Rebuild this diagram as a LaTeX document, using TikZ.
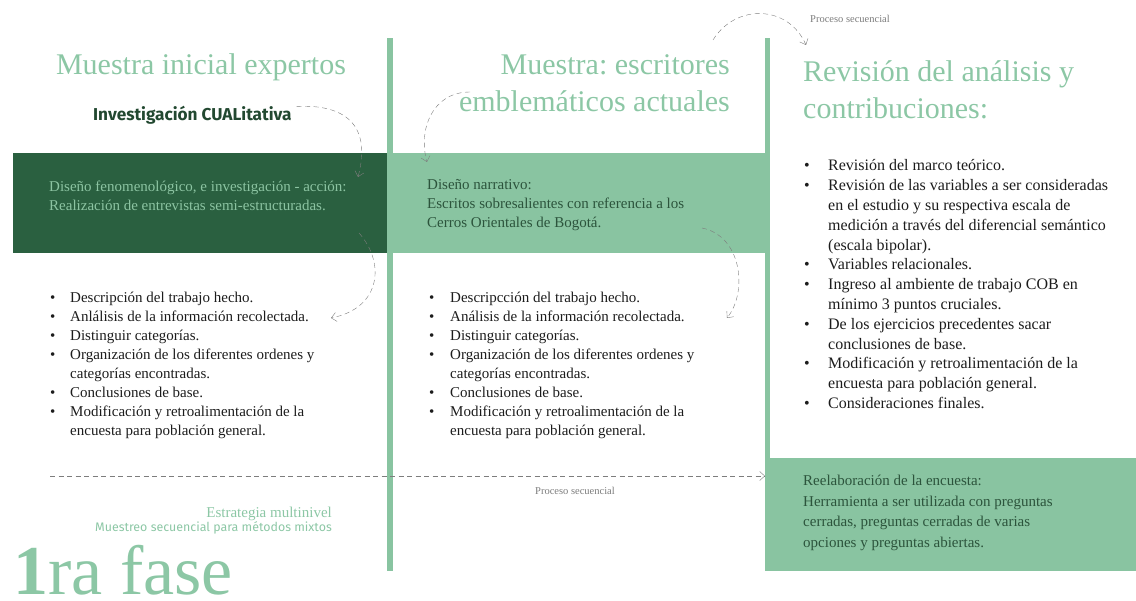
\documentclass[tikz,border=0pt]{standalone}
\usepackage{fontspec}
\setmainfont{Liberation Serif}
\newfontfamily\sansfam{Fira Sans}
\usepackage{tikz}
\usetikzlibrary{arrows.meta}
\frenchspacing
\definecolor{verdeclaro}{RGB}{137,196,161}
\definecolor{verdeoscuro}{RGB}{42,96,64}
\definecolor{tituloverde}{RGB}{140,199,165}
\definecolor{textoclaro}{RGB}{140,196,162}
\definecolor{textoverde}{RGB}{34,72,48}
\definecolor{textobanda}{RGB}{44,84,60}
\definecolor{gris}{RGB}{125,125,125}
\definecolor{texto}{RGB}{28,28,28}
\tikzset{
  titulo/.style={font=\fontsize{30}{37}\selectfont, text=tituloverde, inner sep=0},
  lista/.style={font=\fontsize{15}{19}\selectfont, text=texto, inner sep=0, anchor=base west},
  banda/.style={font=\fontsize{15}{18.8}\selectfont, inner sep=0, anchor=base west},
  flecha/.style={draw=gris, thin, dash pattern=on 5pt off 3.5pt, -{Straight Barb[length=5pt,width=9pt]}},
  nota/.style={font=\fontsize{10.5}{12}\selectfont, text=gris, inner sep=0}
}
\newcommand\bul{\textbullet}
\begin{document}
\begin{tikzpicture}[x=1pt,y=-1pt]
  \useasboundingbox (0,0) rectangle (1136,601);
  % bandas y columnas
  \node[fill=verdeoscuro, anchor=north west, minimum width=377, minimum height=100, inner sep=0] (bandaA) at (13,153) {};
  \node[fill=verdeclaro, anchor=north west, minimum width=376, minimum height=100, inner sep=0] (bandaB) at (390,153) {};
  \fill[verdeclaro] (387,38) rectangle (393,571);
  \fill[verdeclaro] (765,38) rectangle (770,458);
  \node[fill=verdeclaro, anchor=north west, minimum width=371, minimum height=113, inner sep=0] (cajaD) at (765,458) {};

  % titulos
  \node[titulo, anchor=base] (tituloA) at (201,75) {Muestra inicial expertos};
  \node[titulo, anchor=base east] (tituloB) at (730,75) {\begin{tabular}[t]{@{}r@{}}Muestra: escritores\\emblemáticos actuales\end{tabular}};
  \node[titulo, anchor=base west] (tituloC) at (803,82) {\begin{tabular}[t]{@{}l@{}}Revisión del análisis y\\contribuciones:\end{tabular}};
  \node[font=\sansfam\bfseries\fontsize{17.2}{19}\selectfont, text=textoverde, anchor=base west, inner sep=0] (inv) at (93,121) {Investigación CUALitativa};

  % textos de las bandas
  \node[banda, text=textoclaro] (disenoA) at (49,192) {\begin{tabular}[t]{@{}l@{}}Diseño fenomenológico, e investigación - acción:\\Realización de entrevistas semi-estructuradas.\end{tabular}};
  \node[banda, text=textobanda] (disenoB) at (427,190) {\begin{tabular}[t]{@{}l@{}}Diseño narrativo:\\Escritos sobresalientes con referencia a los\\Cerros Orientales de Bogotá.\end{tabular}};

  % listas
  \node[lista] (listaA) at (50,303) {\begin{tabular}[t]{@{}p{20pt}@{}l@{}}
    \bul & Descripción del trabajo hecho.\\
    \bul & Anlálisis de la información recolectada.\\
    \bul & Distinguir categorías.\\
    \bul & Organización de los diferentes ordenes y\\
         & categorías encontradas.\\
    \bul & Conclusiones de base.\\
    \bul & Modificación y retroalimentación de la\\
         & encuesta para población general.
  \end{tabular}};
  \node[lista] (listaB) at (429,303) {\begin{tabular}[t]{@{}p{21pt}@{}l@{}}
    \bul & Descripcción del trabajo hecho.\\
    \bul & Análisis de la información recolectada.\\
    \bul & Distinguir categorías.\\
    \bul & Organización de los diferentes ordenes y\\
         & categorías encontradas.\\
    \bul & Conclusiones de base.\\
    \bul & Modificación y retroalimentación de la\\
         & encuesta para población general.
  \end{tabular}};
  \node[lista, font=\fontsize{16}{19.8}\selectfont] (listaC) at (804,171) {\begin{tabular}[t]{@{}p{24pt}@{}l@{}}
    \bul & Revisión del marco teórico.\\
    \bul & Revisión de las variables a ser consideradas\\
         & en el estudio y su respectiva escala de\\
         & medición a través del diferencial semántico\\
         & (escala bipolar).\\
    \bul & Variables relacionales.\\
    \bul & Ingreso al ambiente de trabajo COB en\\
         & mínimo 3 puntos cruciales.\\
    \bul & De los ejercicios precedentes sacar\\
         & conclusiones de base.\\
    \bul & Modificación y retroalimentación de la\\
         & encuesta para población general.\\
    \bul & Consideraciones finales.
  \end{tabular}};
  \node[banda, text=textobanda, font=\fontsize{15}{20.5}\selectfont] (reelab) at (803,486) {\begin{tabular}[t]{@{}l@{}}Reelaboración de la encuesta:\\Herramienta a ser utilizada con preguntas\\cerradas, preguntas cerradas de varias\\opciones y preguntas abiertas.\end{tabular}};

  % pie
  \node[font=\fontsize{15}{18}\selectfont, text=tituloverde, anchor=base east, inner sep=0] (estrategia) at (332,518) {Estrategia multinivel};
  \node[font=\sansfam\fontsize{12.4}{14}\selectfont, text=tituloverde, anchor=base east, inner sep=0] (muestreo) at (332,532) {Muestreo secuencial para métodos mixtos};
  \node[font=\fontsize{70}{72}\selectfont, text=tituloverde, anchor=base west, inner sep=0] (fase) at (13,594) {\textbf{1}ra fase};

  % flechas punteadas
  \coordinate (c1) at (358,177);
  \coordinate (s2) at (359,233);
  \coordinate (c2) at (331,318);
  \coordinate (s3) at (470,92);
  \coordinate (c3) at (427,162);
  \coordinate (s4) at (702,228);
  \coordinate (c4) at (727,318);
  \coordinate (s5) at (713,40);
  \coordinate (c5) at (806,45);
  \coordinate (s6) at (50,476);
  \draw[flecha] ([xshift=5]inv.north east) .. controls (345,104) and (372,125) .. (c1);
  \draw[flecha] (s2) .. controls (385,262) and (382,308) .. (c2);
  \draw[flecha] (s3) .. controls (432,92) and (418,130) .. (c3);
  \draw[flecha] (s4) .. controls (742,236) and (748,292) .. (c4);
  \draw[flecha] (s5) .. controls (735,4) and (788,4) .. (c5);
  \draw[flecha] (s6) -- (s6 -| cajaD.west);
  \node[nota, anchor=west] (procesoA) at (810,19) {Proceso secuencial};
  \node[nota] (procesoB) at (575,491) {Proceso secuencial};
\end{tikzpicture}
\end{document}
